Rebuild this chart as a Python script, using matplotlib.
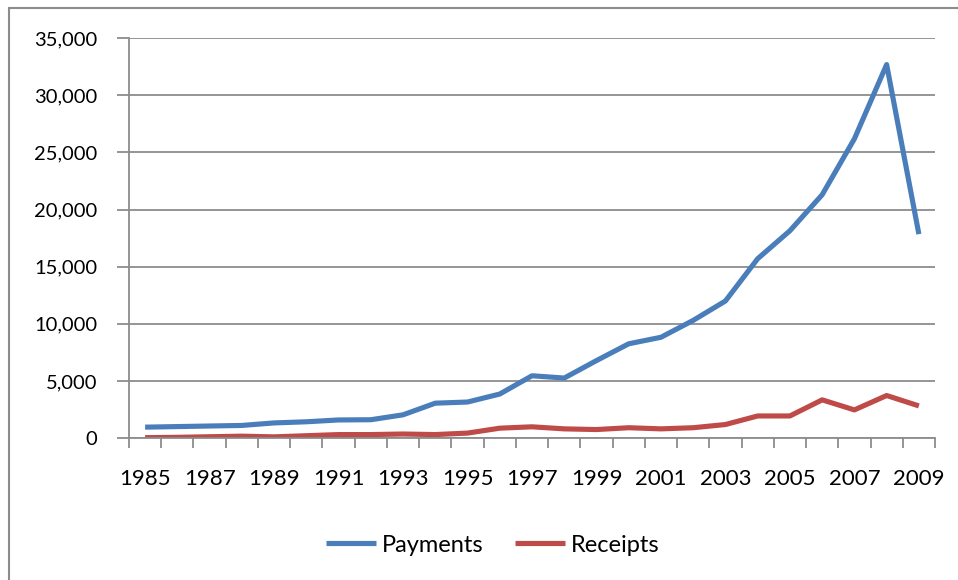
import matplotlib.pyplot as plt
from matplotlib.patches import Rectangle
from matplotlib.ticker import FuncFormatter

plt.rcParams["font.family"] = ["Lato", "DejaVu Sans"]

years = list(range(1985, 2010))
payments = [950, 1000, 1050, 1100, 1320, 1420, 1580, 1600, 2030, 3050, 3150, 3850,
            5450, 5250, 6780, 8250, 8820, 10300, 12000, 15700, 18150, 21300, 26200,
            32700, 17850]
receipts = [30, 60, 110, 160, 100, 200, 300, 300, 350, 300, 430, 860,
            980, 800, 740, 900, 800, 900, 1180, 1930, 1930, 3340, 2460,
            3720, 2810]
y_ticks = [0, 5000, 10000, 15000, 20000, 25000, 30000, 35000]

blue = "#4A7EBB"
red = "#BE4B48"
grid_gray = "#8C8C8C"

fig = plt.figure(figsize=(9.58, 5.80), dpi=100)
ax = fig.add_axes([129 / 958, 1 - 438 / 580, (935 - 129) / 958, (438 - 38.3) / 580])

# outer chart border (runs off the right and bottom edges)
fig.patches.append(Rectangle((9 / 958, -0.05), 1.1, 1 - 8 / 580 + 0.05,
                             transform=fig.transFigure, fill=False,
                             edgecolor="#8C8C8C", linewidth=1.5))

x = list(range(len(years)))
ax.plot(x, payments, color=blue, linewidth=3.7, label="Payments", solid_capstyle="butt")
ax.plot(x, receipts, color=red, linewidth=3.7, label="Receipts", solid_capstyle="butt")

ax.set_xlim(-0.5, len(years) - 0.5)
ax.set_ylim(0, 35000)
ax.set_yticks(y_ticks)
ax.yaxis.set_major_formatter(FuncFormatter(lambda v, p: f"{int(v):,}"))
ax.yaxis.grid(True, color=grid_gray, linewidth=1.3)
ax.set_axisbelow(True)

ax.set_xticks(x[::2])
ax.set_xticklabels([str(y) for y in years[::2]])
ax.set_xticks([i - 0.5 for i in range(len(years) + 1)], minor=True)
ax.tick_params(axis="x", which="major", length=0, pad=22, labelsize=16)
ax.tick_params(axis="x", which="minor", length=7, width=1.3, color=grid_gray)
ax.tick_params(axis="y", length=9, width=1.3, color=grid_gray, pad=14, labelsize=14.5)

for side in ["top", "right"]:
    ax.spines[side].set_visible(False)
for side in ["left", "bottom"]:
    ax.spines[side].set_color(grid_gray)
    ax.spines[side].set_linewidth(1.3)

fig.legend(loc="center", bbox_to_anchor=(0.5146, 1 - 545 / 580), ncol=2, frameon=False,
           fontsize=17, handlelength=2.1, handletextpad=0.25, columnspacing=1.35)

fig.savefig("out.png", dpi=100)
